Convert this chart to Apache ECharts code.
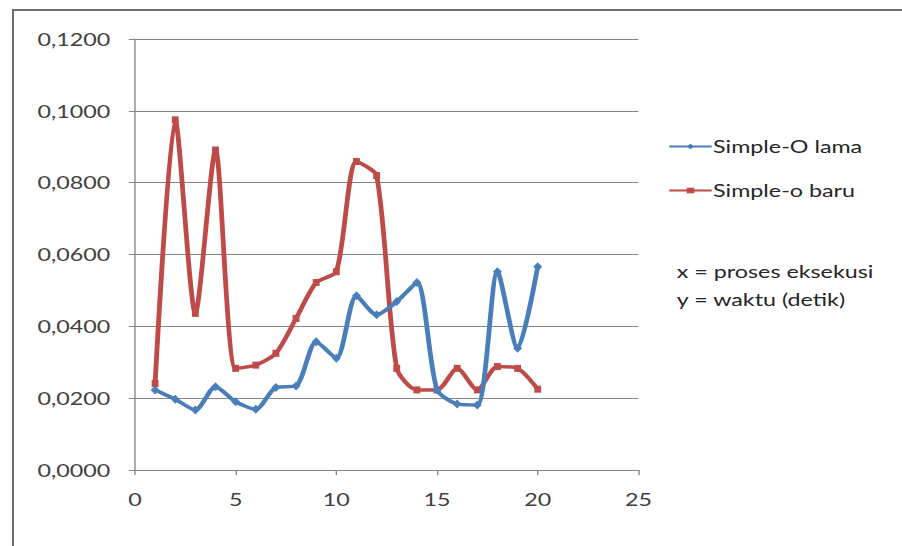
<!DOCTYPE html>
<html>
<head>
<meta charset="utf-8">
<script src="https://cdn.jsdelivr.net/npm/echarts@6/dist/echarts.min.js"></script>
<style>
  html, body { margin: 0; padding: 0; background: #fff; overflow: hidden; }
  /* the original picture is stretched sideways, so draw narrow and widen it */
  #chart { width: 659px; height: 546px; transform: scaleX(1.37); transform-origin: 0 0; }
  #frame {
    position: absolute; left: 12px; top: 9px; width: 890px; height: 537px;
    border-left: 2px solid #6e6e6e; border-top: 2px solid #6e6e6e; pointer-events: none;
  }
</style>
</head>
<body>
<div id="chart"></div>
<div id="frame"></div>
<script>
const xValues = [1, 2, 3, 4, 5, 6, 7, 8, 9, 10, 11, 12, 13, 14, 15, 16, 17, 18, 19, 20];
const lamaValues = [0.0223, 0.0197, 0.0167, 0.0232, 0.0190, 0.0169, 0.0230, 0.0234, 0.0357, 0.0311,
  0.0485, 0.0432, 0.0469, 0.0522, 0.0223, 0.0184, 0.0181, 0.0552, 0.0339, 0.0566];
const baruValues = [0.0241, 0.0975, 0.0436, 0.0891, 0.0283, 0.0292, 0.0325, 0.0422, 0.0522, 0.0552,
  0.0859, 0.0820, 0.0283, 0.0223, 0.0223, 0.0283, 0.0223, 0.0288, 0.0283, 0.0225];
const seriesNames = ['Simple-O lama', 'Simple-o baru'];
const noteLines = ['x = proses eksekusi', 'y = waktu (detik)'];

const font = 'Lato, "Open Sans", sans-serif';
const blue = '#4A7EBB';
const red = '#BE4B48';

const chart = echarts.init(document.getElementById('chart'), null, { renderer: 'svg' });

const pairs = (vals) => xValues.map((x, i) => [x, vals[i]]);

chart.setOption({
  backgroundColor: '#fff',
  animation: false,
  grid: { left: 98.5, right: 193, top: 39, bottom: 76 },
  xAxis: {
    type: 'value',
    min: 0,
    max: 25,
    interval: 5,
    axisLine: { show: true, lineStyle: { color: '#868686' } },
    axisTick: { show: true, length: 5, lineStyle: { color: '#868686' } },
    axisLabel: { color: '#404040', fontSize: 17, fontFamily: font, margin: 21 },
    splitLine: { show: false },
  },
  yAxis: {
    type: 'value',
    min: 0,
    max: 0.12,
    interval: 0.02,
    axisLine: { show: true, lineStyle: { color: '#868686' } },
    axisTick: { show: true, length: 4.5, lineStyle: { color: '#868686' } },
    axisLabel: {
      color: '#404040',
      fontSize: 17,
      fontFamily: font,
      margin: 18,
      formatter: (v) => v.toFixed(4).replace('.', ','),
    },
    splitLine: { show: true, lineStyle: { color: '#868686', width: 1 } },
  },
  legend: {
    orient: 'vertical',
    left: 487.5,
    top: 138,
    padding: 0,
    itemGap: 27,
    itemWidth: 31,
    itemHeight: 7,
    textStyle: { color: '#262626', fontSize: 17, fontFamily: font, padding: [0, 0, 0, -4] },
    data: seriesNames,
  },
  graphic: noteLines.map((t, i) => ({
    type: 'text',
    x: 494,
    y: 271 + i * 28,
    style: { text: t, fill: '#262626', font: '17px ' + font, verticalAlign: 'middle' },
  })),
  series: [
    {
      name: seriesNames[0],
      type: 'line',
      data: pairs(lamaValues),
      smooth: 0.25,
      symbol: 'diamond',
      symbolSize: [6.5, 9],
      lineStyle: { color: blue, width: 3.5 },
      itemStyle: { color: blue },
      z: 3,
    },
    {
      name: seriesNames[1],
      type: 'line',
      data: pairs(baruValues),
      smooth: 0.25,
      symbol: 'rect',
      symbolSize: [5, 7],
      lineStyle: { color: red, width: 3.5 },
      itemStyle: { color: red },
      z: 2,
    },
  ],
});
</script>
</body>
</html>
